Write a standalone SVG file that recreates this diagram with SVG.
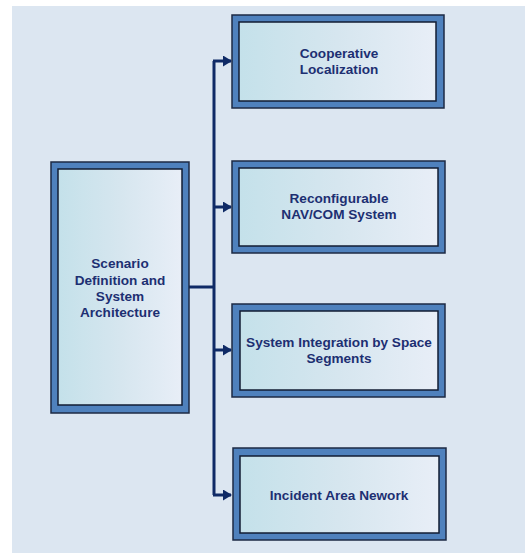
<svg xmlns="http://www.w3.org/2000/svg" width="525" height="553" viewBox="0 0 525 553">
<defs>
<linearGradient id="fillg" x1="0" y1="0" x2="1" y2="0">
<stop offset="0" stop-color="#c4e1ea"/>
<stop offset="0.5" stop-color="#d6e6ef"/>
<stop offset="1" stop-color="#e8eef7"/>
</linearGradient>
<marker id="arr" markerWidth="9" markerHeight="11" refX="8" refY="5.5" orient="auto" markerUnits="userSpaceOnUse">
<path d="M0,0 L9,5.5 L0,11 Z" fill="#0f2a66"/>
</marker>
<style>
.outer{fill:#4f81bd;stroke:#1c2a44;stroke-width:1.5}
.inner{fill:url(#fillg);stroke:#121c33;stroke-width:1.5}
.t{font-family:"Liberation Sans",Arial,sans-serif;font-weight:bold;font-size:13.6px;fill:#1d2f72;text-anchor:middle}
.c{fill:none;stroke:#0f2a66;stroke-width:3}
</style>
</defs>
<rect x="0" y="0" width="525" height="553" fill="#ffffff"/>
<rect x="12" y="6" width="513" height="547" fill="#dce6f1"/>
<g id="connectors">
<path class="c" d="M189,287 H214"/>
<path class="c" d="M214,61 V495"/>
<path class="c" d="M213,61 H231" marker-end="url(#arr)"/>
<path class="c" d="M214,207 H231" marker-end="url(#arr)"/>
<path class="c" d="M214,350 H231" marker-end="url(#arr)"/>
<path class="c" d="M213,495 H231" marker-end="url(#arr)"/>
</g>
<g id="scenario">
<rect class="outer" x="51" y="162" width="138" height="251"/>
<rect class="inner" x="58" y="169" width="124" height="236"/>
<text class="t" x="120" y="268">Scenario</text>
<text class="t" x="120" y="285">Definition and</text>
<text class="t" x="120" y="301">System</text>
<text class="t" x="120" y="317">Architecture</text>
</g>
<g id="cooperative">
<rect class="outer" x="232" y="15" width="212" height="93"/>
<rect class="inner" x="239" y="22" width="197" height="79"/>
<text class="t" x="339" y="58">Cooperative</text>
<text class="t" x="339" y="74">Localization</text>
</g>
<g id="reconfigurable">
<rect class="outer" x="232" y="161" width="213" height="92"/>
<rect class="inner" x="239" y="168" width="199" height="78"/>
<text class="t" x="339" y="203">Reconfigurable</text>
<text class="t" x="339" y="219">NAV/COM System</text>
</g>
<g id="integration">
<rect class="outer" x="232" y="304" width="213" height="93"/>
<rect class="inner" x="240" y="311" width="198" height="79"/>
<text class="t" x="339" y="347">System Integration by Space</text>
<text class="t" x="339" y="363">Segments</text>
</g>
<g id="incident">
<rect class="outer" x="233" y="448" width="213" height="92"/>
<rect class="inner" x="240" y="456" width="199" height="77"/>
<text class="t" x="339" y="500">Incident Area Nework</text>
</g>
</svg>
